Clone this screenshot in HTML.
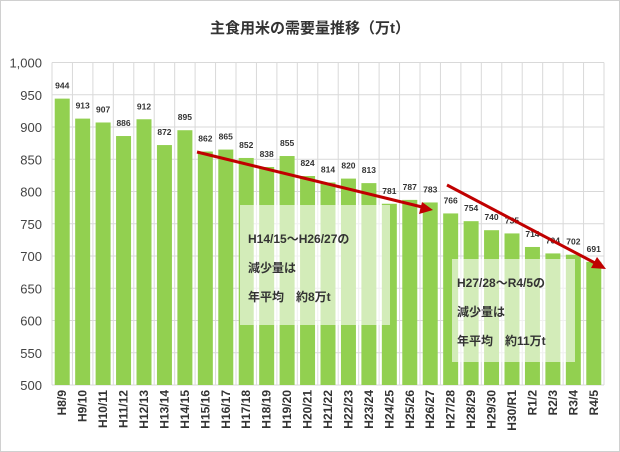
<!DOCTYPE html>
<html><head><meta charset="utf-8"><style>
body{margin:0;background:#fff}
svg{display:block}
text{font-family:"Liberation Sans","Noto Sans CJK JP",sans-serif}
</style></head><body>
<svg width="620" height="452" viewBox="0 0 620 452">
<rect x="0.5" y="0.5" width="619" height="451" fill="#fff" stroke="#d0d0d0"/>
<text x="310" y="33" text-anchor="middle" font-size="15" font-weight="bold" fill="#333">主食用米の需要量推移（万t）</text>
<g id="grid" stroke="#d9d9d9" stroke-width="1"></g>
<g id="bars" fill="#92d050"></g>
<g id="yl" font-size="13" fill="#444" text-anchor="end"></g>
<g id="vl" font-size="8.5" font-weight="bold" fill="#333" text-anchor="middle"></g>
<g id="xl" font-size="12" font-weight="bold" fill="#333"></g>
<rect x="240" y="205" width="150" height="120" fill="#fff" opacity="0.6"/>
<text font-size="12" font-weight="bold" fill="#333"><tspan x="248" y="243">H14/15～H26/27の</tspan><tspan x="248" y="272">減少量は</tspan><tspan x="248" y="301">年平均　約8万t</tspan></text>
<rect x="452" y="259" width="123" height="103" fill="#fff" opacity="0.6"/>
<text font-size="12" font-weight="bold" fill="#333"><tspan x="457" y="287">H27/28～R4/5の</tspan><tspan x="457" y="316">減少量は</tspan><tspan x="457" y="345">年平均　約11万t</tspan></text>
<g stroke="#c00000" stroke-width="3" fill="#c00000">
<line x1="197" y1="152" x2="422" y2="207"/>
<polygon points="433,210 419,214 422,202" stroke="none"/>
<line x1="447" y1="185" x2="595" y2="263"/>
<polygon points="606,269 591,268 597,257" stroke="none"/>
</g>
</svg>
<script>
const v=[944,913,907,886,912,872,895,862,865,852,838,855,824,814,820,813,781,787,783,766,754,740,735,714,704,702,691];
const lab=["H8/9","H9/10","H10/11","H11/12","H12/13","H13/14","H14/15","H15/16","H16/17","H17/18","H18/19","H19/20","H20/21","H21/22","H22/23","H23/24","H24/25","H25/26","H26/27","H27/28","H28/29","H29/30","H30/R1","R1/2","R2/3","R3/4","R4/5"];
const ns="http://www.w3.org/2000/svg";
const L=52,R=604,n=lab.length,w=(R-L)/n,Y=v=>385-(v-500)*0.645;
function el(p,t,a,tx){const e=document.createElementNS(ns,t);for(k in a)e.setAttribute(k,a[k]);if(tx)e.textContent=tx;document.getElementById(p).appendChild(e);}
for(let i=0;i<=10;i++){const y=Y(500+50*i);el("grid","line",{x1:L,x2:R,y1:y,y2:y});el("yl","text",{x:42,y:y+5},(500+50*i).toLocaleString("en-US"));}
for(let i=0;i<=n;i++){const x=L+i*w;el("grid","line",{x1:x,x2:x,y1:Y(1000),y2:385});}
for(let i=0;i<n;i++){const x=L+w*(i+0.5);el("bars","rect",{x:x-7.5,y:Y(v[i]),width:15,height:385-Y(v[i])});el("vl","text",{x:x,y:Y(v[i])-10},v[i]);el("xl","text",{x:0,y:0,transform:`translate(${x+4},390) rotate(-90)`,"text-anchor":"end"},lab[i]);}
</script>
</body></html>
